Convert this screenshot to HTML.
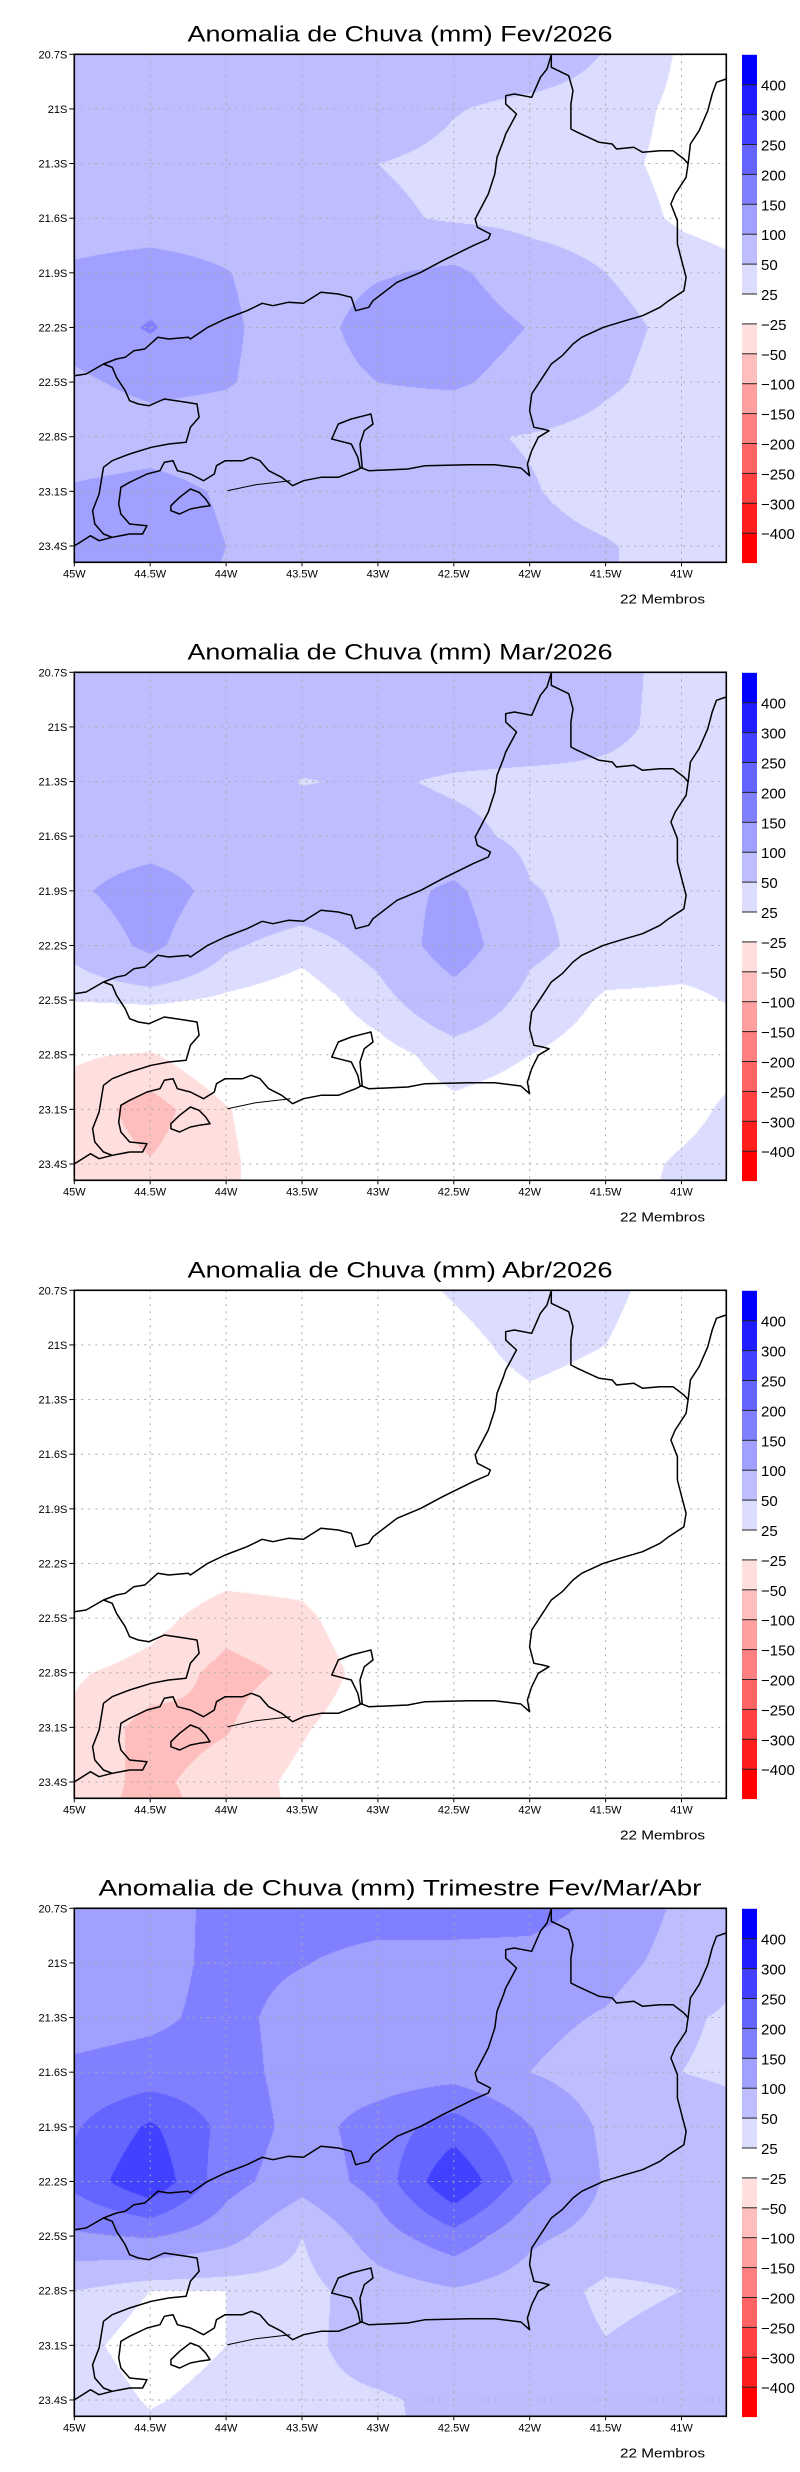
<!DOCTYPE html>
<html><head><meta charset="utf-8">
<style>
html,body{margin:0;padding:0;background:#fff;}
body{width:800px;height:2472px;position:relative;overflow:hidden;font-family:"Liberation Sans",sans-serif;}
canvas{position:absolute;left:74px;}
svg{position:absolute;left:0;top:0;}
</style></head>
<body>
<canvas id="c0" width="652" height="508" style="top:54px"></canvas>
<canvas id="c1" width="652" height="508" style="top:672px"></canvas>
<canvas id="c2" width="652" height="508" style="top:1290px"></canvas>
<canvas id="c3" width="652" height="508" style="top:1908px"></canvas>
<svg id="ov" width="800" height="2472" xmlns="http://www.w3.org/2000/svg"></svg>
<script>
const lonNodes = [-45,-44.5,-44,-43.5,-43,-42.5,-42,-41.5,-41,-40.5];
const latNodes = [-20.7,-21,-21.3,-21.6,-21.9,-22.2,-22.5,-22.8,-23.1,-23.4,-23.7];
const levels = [-400,-300,-250,-200,-150,-100,-50,-25,25,50,100,150,200,250,300,400];
const levelColors = ["rgb(255,0,0)","rgb(255,30,30)","rgb(255,65,65)","rgb(255,100,100)","rgb(255,128,128)","rgb(255,160,160)","rgb(255,190,190)","rgb(255,222,222)","rgb(255,255,255)","rgb(220,220,255)","rgb(190,190,255)","rgb(160,160,255)","rgb(128,128,255)","rgb(100,100,255)","rgb(65,65,255)","rgb(30,30,255)","rgb(0,0,255)"];
const titles = ["Anomalia de Chuva (mm) Fev/2026","Anomalia de Chuva (mm) Mar/2026","Anomalia de Chuva (mm) Abr/2026","Anomalia de Chuva (mm) Trimestre Fev/Mar/Abr"];
const xTicks = ["45W","44.5W","44W","43.5W","43W","42.5W","42W","41.5W","41W"];
const yTicks = ["20.7S","21S","21.3S","21.6S","21.9S","22.2S","22.5S","22.8S","23.1S","23.4S"];
const fevValues = [
[75,75,75,75,75,75,75,48,22,15],
[75,75,75,75,75,52,40,35,20,15],
[75,75,75,75,50,40,40,30,20,15],
[75,75,75,75,58,45,40,35,22,15],
[108,122,102,75,95,110,68,50,35,27],
[118,155,108,75,125,130,98,60,42,35],
[92,112,104,75,100,108,78,55,38,35],
[75,80,75,70,70,55,48,40,35,35],
[105,115,95,70,65,60,52,40,35,35],
[110,120,100,70,65,62,58,52,40,35],
[110,115,95,70,65,62,60,52,42,38]];
const marValues = [
[75,75,75,75,75,75,75,60,40,35],
[75,75,75,75,75,75,75,58,40,35],
[55,75,75,48,55,45,40,42,40,38],
[75,75,75,75,70,60,42,38,35,35],
[92,125,82,75,78,110,52,40,35,32],
[62,112,55,35,62,128,58,38,32,30],
[26,30,20,10,38,80,40,22,22,28],
[-22,-28,0,5,15,35,25,15,15,20],
[-35,-62,-27,0,10,20,15,10,18,35],
[-35,-48,-30,-5,5,10,10,15,28,38],
[-35,-40,-30,-5,5,10,10,18,30,40]];
const abrValues = [
[10,10,10,10,10,28,45,30,15,10],
[10,10,10,10,10,15,35,25,12,10],
[10,10,10,10,10,10,20,12,10,10],
[10,10,10,10,10,10,10,10,10,10],
[10,10,10,10,10,10,10,10,10,10],
[5,0,-10,-10,5,10,10,10,10,10],
[5,-15,-40,-32,0,8,10,10,10,10],
[-22,-35,-58,-45,-10,5,10,10,10,10],
[-30,-60,-52,-28,-5,5,10,10,10,10],
[-40,-55,-40,-18,0,5,10,10,10,10],
[-40,-60,-45,-20,0,5,10,10,10,10]];
const triValues = [
[120,120,170,170,170,170,165,140,90,75],
[120,130,165,152,135,135,135,120,80,45],
[130,140,165,130,120,120,115,95,55,40],
[160,170,170,130,125,130,100,75,50,40],
[195,258,185,130,172,225,152,90,75,60],
[215,292,168,120,168,298,172,95,75,70],
[142,155,120,50,128,182,110,80,70,65],
[50,25,25,35,75,95,75,40,50,65],
[35,10,25,40,70,80,75,52,65,70],
[45,22,35,40,45,60,70,70,70,70],
[55,40,45,45,45,55,70,70,70,70]];
const panels = [fevValues, marValues, abrValues, triValues];

const L=74.3, W=652, H=508, PX_PER_LON=151.8, PX_PER_LAT=182.1, TOP0=54.3, STEP=618;
function xOf(lon){return (lon+45)*PX_PER_LON;}
function yOf(lat){return (-20.7-lat)*PX_PER_LAT;}
function rgbArr(s){return s.match(/\d+/g).map(Number);}
const rgbLevels = levelColors.map(rgbArr);
function classOf(v){let i=0;while(i<levels.length&&v>levels[i])i++;return i;}

panels.forEach((vals,p)=>{
  const cv=document.getElementById('c'+p), ctx=cv.getContext('2d');
  const img=ctx.createImageData(W,H);
  const gxs=lonNodes.map(xOf), gys=latNodes.map(yOf);
  for(let y=0;y<H;y++){
    let r=0;while(r<gys.length-2&&y>gys[r+1])r++;
    const ty=Math.min(1,Math.max(0,(y-gys[r])/(gys[r+1]-gys[r])));
    for(let x=0;x<W;x++){
      let c=0;while(c<gxs.length-2&&x>gxs[c+1])c++;
      const tx=Math.min(1,Math.max(0,(x-gxs[c])/(gxs[c+1]-gxs[c])));
      const v=(vals[r][c]*(1-tx)+vals[r][c+1]*tx)*(1-ty)+(vals[r+1][c]*(1-tx)+vals[r+1][c+1]*tx)*ty;
      const col=rgbLevels[classOf(v)];
      const k=(y*W+x)*4;img.data[k]=col[0];img.data[k+1]=col[1];img.data[k+2]=col[2];img.data[k+3]=255;
    }
  }
  ctx.putImageData(img,0,0);
});

const borderMain=[[33,995],[60,990],[100,960],[130,945],[150,940],[170,920],[195,915],[225,880],[250,885],[295,880],[300,885],[340,850],[380,825],[430,800],[465,778],[490,785],[525,775],[560,778],[600,745],[640,750],[670,760],[680,800],[710,790],[720,770],[775,715],[830,685],[880,650],[950,605],[985,585],[990,570],[960,550],[955,525],[985,450],[1000,390],[1005,340],[1020,290],[1025,270],[1050,210],[1025,180],[1025,155],[1045,150],[1085,160],[1105,100],[1120,75],[1130,32]];
const borderNE=[[1130,32],[1130,70],[1170,95],[1180,140],[1175,180],[1175,255],[1190,265],[1240,295],[1270,300],[1280,315],[1320,310],[1340,325],[1380,320],[1410,320],[1435,345],[1445,360]];
const coast=[[1532,105],[1510,115],[1500,150],[1490,200],[1470,260],[1450,300],[1445,355],[1440,400],[1415,450],[1405,480],[1420,530],[1420,600],[1430,650],[1440,700],[1435,740],[1400,770],[1380,790],[1340,815],[1300,830],[1250,850],[1200,880],[1180,900],[1155,935],[1130,960],[1110,1000],[1085,1050],[1080,1100],[1090,1150],[1110,1155],[1125,1160],[1100,1180],[1085,1220],[1075,1260],[1080,1295],[1060,1272],[1000,1262],[940,1262],[840,1265],[800,1275],[750,1278],[710,1280],[690,1270],[685,1240],[670,1200],[640,1190],[625,1185],[640,1140],[670,1125],[700,1115],[715,1110],[720,1140],[700,1160],[690,1200],[695,1270],[680,1280],[640,1300],[600,1300],[560,1310],[535,1325],[510,1300],[480,1280],[460,1250],[440,1240],[420,1250],[380,1250],[360,1265],[355,1290],[330,1310],[300,1290],[270,1280],[260,1250],[240,1255],[230,1280],[200,1290],[160,1315],[140,1330],[135,1380],[140,1410],[160,1440],[200,1445],[190,1470],[160,1470],[120,1480],[90,1490],[70,1475],[40,1500],[33,1505]];
const borderSP=[[100,960],[120,970],[130,1000],[150,1040],[160,1070],[180,1080],[205,1085],[240,1065],[290,1075],[315,1080],[320,1120],[300,1150],[290,1195],[250,1200],[210,1210],[160,1230],[120,1250],[100,1270],[90,1350],[75,1400],[80,1440],[100,1470],[120,1480]];
const sandbar=[[385,1340],[450,1322],[530,1310]];
const island=[[255,1385],[275,1360],[300,1335],[320,1345],[335,1365],[345,1385],[320,1390],[300,1395],[275,1410],[255,1400]];
const ov=document.getElementById('ov');
const NS='http://www.w3.org/2000/svg';
function mk(tag,attrs,parent){const e=document.createElementNS(NS,tag);for(const k in attrs)e.setAttribute(k,attrs[k]);(parent||ov).appendChild(e);return e;}
function pts(a,ox,oy){return a.map(q=>((q[0]/2.3-14.3)+ox).toFixed(1)+','+((q[1]/3-10.3)+oy).toFixed(1)).join(' ');}

for(let p=0;p<4;p++){
  const top=TOP0+STEP*p;
  const g=mk('g',{});
  
  
  const t=mk('text',{x:400,y:top-13,'text-anchor':'middle','font-size':'22','font-family':'Liberation Sans, sans-serif',textLength:(titles[p].length*13.7).toFixed(0),lengthAdjust:'spacingAndGlyphs'},g);
  t.textContent=titles[p];
  
  
  for(let i=1;i<xTicks.length;i++){const x=L+i*0.5*PX_PER_LON;mk('line',{x1:x,y1:top,x2:x,y2:top+H,stroke:'#aaa','stroke-width':1,'stroke-dasharray':'2,5'},g);}
  for(let j=1;j<yTicks.length;j++){const y=top+j*0.3*PX_PER_LAT;mk('line',{x1:L,y1:y,x2:L+W,y2:y,stroke:'#aaa','stroke-width':1,'stroke-dasharray':'2,5'},g);}
  const bg=mk('g',{fill:'none',stroke:'#000','stroke-width':1.5,'stroke-linejoin':'round'},g);
  
  
  [borderMain,borderNE,coast,borderSP].forEach(a=>mk('polyline',{points:pts(a,L,top)},bg));
  mk('polyline',{points:pts(sandbar,L,top),'stroke-width':1},bg);
  mk('polygon',{points:pts(island,L,top)},bg);
  const fr=mk('rect',{x:L,y:top,width:W,height:H,fill:'none',stroke:'#000','stroke-width':1.6},g);
  
  
  xTicks.forEach((s,i)=>{const x=L+i*0.5*PX_PER_LON;mk('line',{x1:x,y1:top+H,x2:x,y2:top+H+4,stroke:'#000'},g);
    const e=mk('text',{x:x,y:top+H+15,'text-anchor':'middle','font-size':'11','font-family':'Liberation Sans, sans-serif'},g);e.textContent=s;
    
    });
  yTicks.forEach((s,j)=>{const y=top+j*0.3*PX_PER_LAT;mk('line',{x1:L-5,y1:y,x2:L,y2:y,stroke:'#000'},g);
    const e=mk('text',{x:L-7,y:y+4,'text-anchor':'end','font-size':'11','font-family':'Liberation Sans, sans-serif'},g);e.textContent=s;
    
    });
  const cb=mk('g',{},g);
  
  
  const bh=29.9, cbx=742, cbw=15;
  for(let k=0;k<levelColors.length;k++){
    const y=top+0.5+k*bh;
    mk('rect',{x:cbx,y:y,width:cbw,height:bh,fill:levelColors[levelColors.length-1-k]},cb);
  }
  for(let k=1;k<levelColors.length;k++){
    const y=top+0.5+k*bh;
    mk('line',{x1:cbx,y1:y,x2:cbx+cbw,y2:y,stroke:'#222','stroke-width':1},cb);
    const e=mk('text',{x:cbx+19,y:y+6,'font-size':'15','font-family':'Liberation Sans, sans-serif'},cb);
    e.textContent=String(levels[levels.length-k]).replace('-','\u2212');
    
    
  }
  const m=mk('text',{x:620,y:top+H+41,'font-size':'13','font-family':'Liberation Sans, sans-serif',textLength:'85',lengthAdjust:'spacingAndGlyphs'},g);
  m.textContent='22 Membros';
  
  
}
</script>
</body></html>
